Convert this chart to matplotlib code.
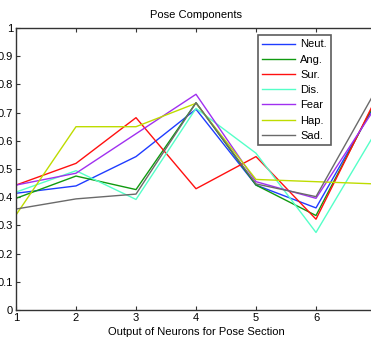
import matplotlib
matplotlib.use("Agg")
import matplotlib.pyplot as plt

x = [1, 2, 3, 4, 5, 6, 7]
series_names = ["Neut.", "Ang.", "Sur.", "Dis.", "Fear", "Hap.", "Sad."]
neut = [0.414, 0.440, 0.544, 0.712, 0.443, 0.362, 0.734]
ang  = [0.396, 0.475, 0.427, 0.735, 0.443, 0.335, 0.743]
sur  = [0.443, 0.520, 0.682, 0.430, 0.544, 0.322, 0.750]
dis  = [0.418, 0.494, 0.392, 0.715, 0.556, 0.275, 0.633]
fear = [0.443, 0.485, 0.625, 0.765, 0.455, 0.396, 0.722]
hap  = [0.337, 0.650, 0.650, 0.733, 0.463, 0.455, 0.447]
sad  = [0.358, 0.394, 0.411, 0.735, 0.447, 0.402, 0.780]
colors = ["#1f3cff", "#109a10", "#ff1010", "#55ffc8", "#a030f0", "#bedc00", "#6a6a6a"]
xticks = [1, 2, 3, 4, 5, 6]
yticks = [0, 0.1, 0.2, 0.3, 0.4, 0.5, 0.6, 0.7, 0.8, 0.9, 1]
ytick_labels = ["0", "0.1", "0.2", "0.3", "0.4", "0.5", "0.6", "0.7", "0.8", "0.9", "1"]

plt.rcParams['font.family'] = ['Liberation Sans', 'DejaVu Sans']
fig = plt.figure(figsize=(3.71, 3.39), dpi=100)
W, H = 371, 339
left, right, top, bottom = 16, 376, 28, 310
ax = fig.add_axes([left / W, 1 - bottom / H, (right - left) / W, (bottom - top) / H])

for vals, name, c in zip([neut, ang, sur, dis, fear, hap, sad], series_names, colors):
    ax.plot(x, vals, color=c, lw=1.0, label=name)

ax.set_xlim(1, 7)
ax.set_ylim(0, 1)
ax.set_xticks(xticks)
ax.set_yticks(yticks)
ax.set_yticklabels(ytick_labels)
ax.tick_params(direction='in', top=True, right=True, length=3, width=0.8,
               labelsize=8, pad=2, color='#333333')
for s in ax.spines.values():
    s.set_color('#333333')
    s.set_linewidth(1.0)
ax.set_title("Pose Components", fontsize=8, pad=7)
ax.set_xlabel("Output of Neurons for Pose Section", fontsize=8, labelpad=3)

leg = ax.legend(loc='upper left',
                bbox_to_anchor=((258 - left) / (right - left), 1 - (35 - top) / (bottom - top)),
                borderaxespad=0, fontsize=8, frameon=True, fancybox=False, edgecolor='#333333',
                handlelength=2.9, handletextpad=0.5, labelspacing=0.47, borderpad=0.4)
leg.get_frame().set_linewidth(1.2)

fig.savefig("out.png", dpi=100)
